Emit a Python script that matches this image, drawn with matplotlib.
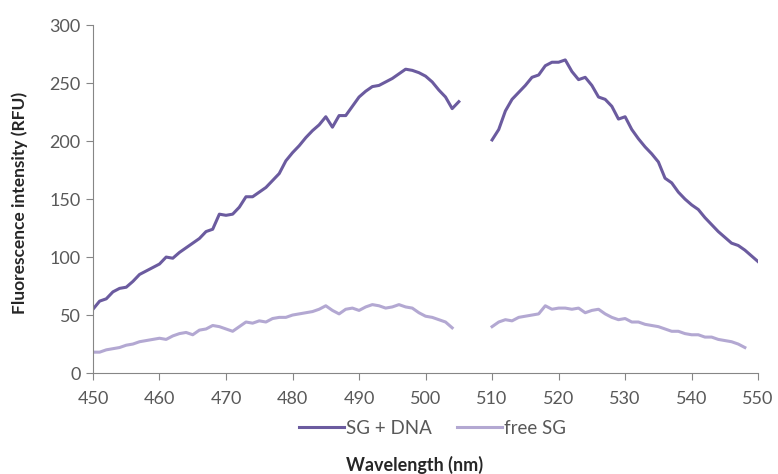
import numpy as np
from matplotlib import pyplot as plt

# emission spectra, 1 nm steps; the detector blanks 505-510 nm
wl_a = np.arange(450, 506)
wl_b = np.arange(510, 551)
wl_c = np.arange(450, 505)
wl_d = np.arange(510, 549)

sg_dna_a = [55, 62, 64, 70, 73, 74, 79, 85, 88, 91,
            94, 100, 99, 104, 108, 112, 116, 122, 124, 137,
            136, 137, 143, 152, 152, 156, 160, 166, 172, 183,
            190, 196, 203, 209, 214, 221, 212, 222, 222, 230,
            238, 243, 247, 248, 251, 254, 258, 262, 261, 259,
            256, 251, 244, 238, 228, 234]
sg_dna_b = [201, 210, 226, 236, 242, 248, 255, 257, 265, 268,
            268, 270, 260, 253, 255, 248, 238, 236, 230, 219,
            221, 210, 202, 195, 189, 182, 168, 164, 156, 150,
            145, 141, 134, 128, 122, 117, 112, 110, 106, 101,
            96]

free_sg_a = [18, 18, 20, 21, 22, 24, 25, 27, 28, 29,
             30, 29, 32, 34, 35, 33, 37, 38, 41, 40,
             38, 36, 40, 44, 43, 45, 44, 47, 48, 48,
             50, 51, 52, 53, 55, 58, 54, 51, 55, 56,
             54, 57, 59, 58, 56, 57, 59, 57, 56, 52,
             49, 48, 46, 44, 39]
free_sg_b = [40, 44, 46, 45, 48, 49, 50, 51, 58, 55,
             56, 56, 55, 56, 52, 54, 55, 51, 48, 46,
             47, 44, 44, 42, 41, 40, 38, 36, 36, 34,
             33, 33, 31, 31, 29, 28, 27, 25, 22]

dark = '#6b5b9f'
light = '#b3a8d2'
grey = '#595959'

plt.rcParams['font.family'] = ['Lato', 'DejaVu Sans']

fig = plt.figure(figsize=(7.78, 4.74), dpi=100)
ax = fig.add_axes([0.1195, 0.213, 0.855, 0.734])

ax.plot(wl_a, sg_dna_a, color=dark, lw=2.2, label='SG + DNA')
ax.plot(wl_b, sg_dna_b, color=dark, lw=2.2)
ax.plot(wl_c, free_sg_a, color=light, lw=2.2, label='free SG')
ax.plot(wl_d, free_sg_b, color=light, lw=2.2)

ax.set_xlim(450, 550)
ax.set_ylim(0, 300)
ax.set_xticks(np.arange(450, 551, 10))
ax.set_yticks(np.arange(0, 301, 50))
ax.tick_params(colors='#868686', labelcolor=grey, labelsize=13, length=5)
ax.tick_params(axis='x', pad=8)
ax.tick_params(axis='y', pad=4)

for s in ['top', 'right']:
    ax.spines[s].set_visible(False)
for s in ['left', 'bottom']:
    ax.spines[s].set_color('#868686')

ax.set_ylabel('Fluorescence intensity (RFU)', fontsize=12.5, fontweight='bold',
              color='#262626', va='center')
ax.yaxis.set_label_coords(-0.11, 0.49)
ax.set_xlabel('Wavelength (nm)', fontsize=13, fontweight='bold',
              color='#262626', va='center')
ax.xaxis.set_label_coords(0.483, -0.264)

ax.legend(loc='center', bbox_to_anchor=(0.51, -0.158), ncol=2,
          frameon=False, fontsize=13.5, handlelength=2.4, columnspacing=1.35,
          handletextpad=0.1, labelcolor=grey, borderpad=0)

plt.savefig('out.png')
